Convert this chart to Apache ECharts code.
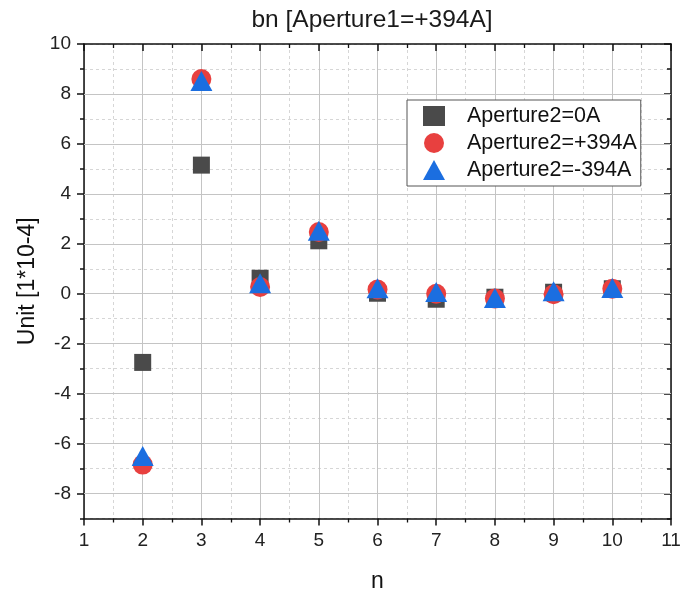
<!DOCTYPE html>
<html>
<head>
<meta charset="utf-8">
<script src="https://cdn.jsdelivr.net/npm/echarts@6/dist/echarts.min.js"></script>
<style>
html,body{margin:0;padding:0;background:#fff;}
#chart{width:684px;height:591px;}
</style>
</head>
<body>
<div id="chart"></div>
<script>
var nValues = [2, 3, 4, 5, 6, 7, 8, 9, 10];
var ap0 = [-2.75, 5.15, 0.62, 2.12, 0.02, -0.22, -0.14, 0.06, 0.2];
var apPlus = [-6.84, 8.6, 0.27, 2.47, 0.17, 0.0, -0.19, -0.02, 0.2];
var apMinus = [-6.5, 8.52, 0.42, 2.52, 0.22, 0.07, -0.17, 0.1, 0.23];
var seriesNames = ['Aperture2=0A', 'Aperture2=+394A', 'Aperture2=-394A'];
var yMajorTicks = [-8, -6, -4, -2, 0, 2, 4, 6, 8, 10];
var yMinorTicks = [-9, -7, -5, -3, -1, 1, 3, 5, 7, 9];

function pairs(ys) { return nValues.map(function (x, i) { return [x, ys[i]]; }); }

var font = 'Liberation Sans, Arial, sans-serif';
var axisCol = '#111';
var majorGridCol = '#c4c4c4';
var minorGridStyle = { show: true, lineStyle: { color: '#d6d6d6', width: 1, type: [3, 3] } };

function yTickAxis(position, inside, values, len) {
  return {
    type: 'value', min: -9, max: 10, interval: 1, position: position,
    axisLine: { show: false },
    axisTick: { show: true, inside: inside, length: len, customValues: values, lineStyle: { color: axisCol, width: 1.5 } },
    axisLabel: { show: false },
    splitLine: { show: false }
  };
}

var chart = echarts.init(document.getElementById('chart'), null, { renderer: 'canvas' });
chart.setOption({
  backgroundColor: '#fff',
  animation: false,
  title: {
    text: 'bn [Aperture1=+394A]',
    left: 367, top: 3, textAlign: 'center',
    textStyle: { fontFamily: font, fontSize: 24.5, fontWeight: 'normal', color: '#1a1a1a' }
  },
  grid: { left: 84, right: 13, top: 44, bottom: 72.5, containLabel: false, outerBoundsMode: 'none' },
  legend: {
    orient: 'vertical',
    left: 407, top: 100, z: 20,
    itemWidth: 22, itemHeight: 20, itemGap: 5,
    padding: [5, 4, 5, 16],
    borderColor: '#555', borderWidth: 1, borderRadius: 0,
    backgroundColor: '#fff',
    textStyle: { fontFamily: font, fontSize: 21.5, lineHeight: 20, color: '#111', padding: [0, 0, 0, 17] },
    data: seriesNames
  },
  xAxis: [{
    type: 'value', min: 1, max: 11, interval: 1, position: 'bottom',
    name: 'n', nameLocation: 'middle', nameGap: 52,
    nameTextStyle: { fontFamily: font, fontSize: 23, color: '#111' },
    axisLine: { show: true, onZero: false, lineStyle: { color: axisCol, width: 1.5 } },
    axisTick: { show: true, inside: false, length: 7, lineStyle: { color: axisCol, width: 1.5 } },
    minorTick: { show: true, splitNumber: 2, length: 4, lineStyle: { color: axisCol, width: 1.3 } },
    axisLabel: { fontFamily: font, fontSize: 19, color: '#222', margin: 13 },
    splitLine: { show: true, lineStyle: { color: majorGridCol, width: 1, type: 'solid' } },
    minorSplitLine: minorGridStyle
  }, {
    type: 'value', min: 1, max: 11, interval: 1, position: 'top',
    axisLine: { show: true, onZero: false, lineStyle: { color: axisCol, width: 1.5 } },
    axisTick: { show: true, inside: true, length: 7, lineStyle: { color: axisCol, width: 1.5 } },
    minorTick: { show: true, splitNumber: 2, length: 4, lineStyle: { color: axisCol, width: 1.3 } },
    axisLabel: { show: false },
    splitLine: { show: false }
  }],
  yAxis: [{
    type: 'value', min: -9, max: 10, position: 'left',
    interval: 1,
    name: 'Unit [1*10-4]', nameLocation: 'middle', nameGap: 43,
    nameTextStyle: { fontFamily: font, fontSize: 23, color: '#111' },
    axisLine: { show: true, onZero: false, lineStyle: { color: axisCol, width: 1.5 } },
    axisTick: { show: false },
    axisLabel: {
      fontFamily: font, fontSize: 19, color: '#222', margin: 13,
      formatter: function (v) { return yMajorTicks.indexOf(v) >= 0 ? String(v) : ''; }
    },
    splitLine: minorGridStyle
  }, {
    type: 'value', min: -9, max: 10, position: 'right', interval: 1,
    axisLine: { show: true, onZero: false, lineStyle: { color: axisCol, width: 1.5 } },
    axisTick: { show: false },
    axisLabel: { show: false },
    splitLine: { show: false }
  },
    yTickAxis('left', false, yMajorTicks, 7),
    yTickAxis('left', false, yMinorTicks, 4),
    yTickAxis('right', true, yMajorTicks, 7),
    yTickAxis('right', true, yMinorTicks, 4)
  ],
  series: [{
    name: 'gridMajor', type: 'line', xAxisIndex: 0, yAxisIndex: 0, data: [], z: 1,
    silent: true,
    markLine: {
      silent: true, symbol: 'none', animation: false, z: 1,
      label: { show: false },
      lineStyle: { color: majorGridCol, width: 1, type: 'solid' },
      data: yMajorTicks.filter(function (v) { return v < 10; }).map(function (v) { return { yAxis: v }; })
    }
  }, {
    name: seriesNames[0], type: 'scatter', xAxisIndex: 0, yAxisIndex: 0,
    symbol: 'rect', symbolSize: 17,
    itemStyle: { color: '#4a4a4a', opacity: 1 },
    data: pairs(ap0), z: 3
  }, {
    name: seriesNames[1], type: 'scatter', xAxisIndex: 0, yAxisIndex: 0,
    symbol: 'circle', symbolSize: 20,
    itemStyle: { color: '#e8403f', opacity: 1 },
    data: pairs(apPlus), z: 4
  }, {
    name: seriesNames[2], type: 'scatter', xAxisIndex: 0, yAxisIndex: 0,
    symbol: 'triangle', symbolSize: [22, 20],
    itemStyle: { color: '#1b6ee0', opacity: 1 },
    data: pairs(apMinus), z: 5
  }]
});
</script>
</body>
</html>
